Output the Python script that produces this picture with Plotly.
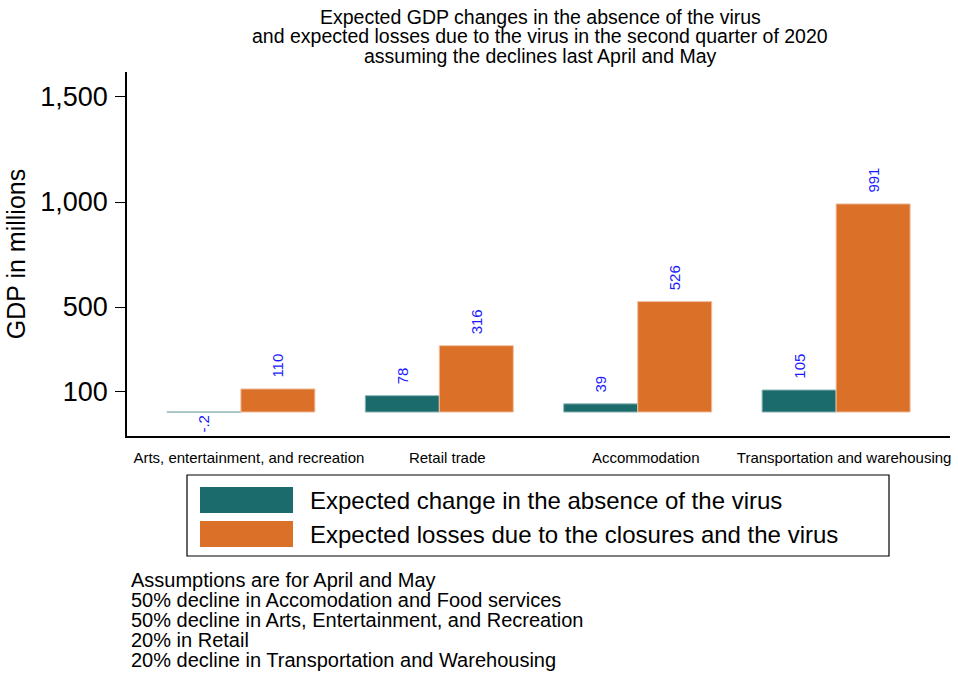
import plotly.graph_objects as go

# 業種ごとのデータ
sectors = ["Arts, entertainment, and recreation", "Retail trade", "Accommodation",
           "Transportation and warehousing"]
change_no_virus = [-0.2, 78, 39, 105]
change_labels = ["-.2", "78", "39", "105"]
losses_virus = [110, 316, 526, 991]
losses_labels = ["110", "316", "526", "991"]
series_names = ["Expected change in the absence of the virus",
                "Expected losses due to the closures and the virus"]
y_ticks = [100, 500, 1000, 1500]
y_ticktext = ["100", "500", "1,000", "1,500"]
title_lines = ["Expected GDP changes in the absence of the virus",
               "and expected losses due to the virus in the second quarter of 2020",
               "assuming the declines last April and May"]
notes = ["Assumptions are for April and May",
         "50% decline in Accomodation and Food services",
         "50% decline in Arts, Entertainment, and Recreation",
         "20% in Retail",
         "20% decline in Transportation and Warehousing"]

teal = "#1b6a6c"
orange = "#db7029"
label_font = dict(family="Liberation Sans, Arial", size=15, color="#1a1aff")

W, H = 958, 674
L, R, T, B = 127, 950, 72, 436  # プロット領域（ピクセル）


def px(x):
    return (x - L) / (R - L)


def py(y):
    return (B - y) / (B - T)


fig = go.Figure()
fig.add_trace(go.Bar(
    x=list(range(len(sectors))), y=change_no_virus, name=series_names[0],
    marker=dict(color=teal, line=dict(color="#8fb5b6", width=1)),
    text=change_labels, texttemplate="\u00a0\u00a0%{text}",
    textposition="outside", textangle=-90,
    textfont=label_font, cliponaxis=False,
))
fig.add_trace(go.Bar(
    x=list(range(len(sectors))), y=losses_virus, name=series_names[1],
    marker=dict(color=orange, line=dict(color="#efbf9f", width=1)),
    text=losses_labels, texttemplate="\u00a0\u00a0%{text}",
    textposition="outside", textangle=-90,
    textfont=label_font, cliponaxis=False,
))

fig.update_layout(
    width=W, height=H,
    margin=dict(l=L, r=W - R, t=T, b=H - B),
    paper_bgcolor="white", plot_bgcolor="white",
    font=dict(family="Liberation Sans, Arial", color="black"),
    barmode="group", bargap=0.254, bargroupgap=0,
    showlegend=False,
    xaxis=dict(
        range=[-0.574, 3.574], tickvals=list(range(len(sectors))), ticktext=sectors,
        showline=True, linecolor="black", linewidth=1.5, ticks="",
        showgrid=False, zeroline=False, tickfont=dict(size=15),
        ticklabelstandoff=7, ticklabelshift=8,
    ),
    yaxis=dict(
        range=[-114, 1619], tickvals=y_ticks, ticktext=y_ticktext,
        showline=True, linecolor="black", linewidth=1.5,
        ticks="outside", ticklen=10, tickcolor="black", ticklabelstandoff=2,
        showgrid=False, zeroline=False, tickfont=dict(size=27),
        title=dict(text="GDP in millions", font=dict(size=25), standoff=8),
    ),
)

# タイトル（行間を詰めるため1行ずつ）
for i, line in enumerate(title_lines):
    fig.add_annotation(xref="paper", yref="paper", x=px(540), y=py(17 + i * 19.5),
                       xanchor="center", yanchor="middle", showarrow=False,
                       text=line, font=dict(size=19.5))

# 凡例（手描き）
fig.add_shape(type="rect", xref="paper", yref="paper",
              x0=px(187), x1=px(889), y0=py(556), y1=py(475),
              line=dict(color="black", width=1.2), fillcolor="white")
for i, (name, col) in enumerate(zip(series_names, [teal, orange])):
    top = 487 + i * 34
    fig.add_shape(type="rect", xref="paper", yref="paper",
                  x0=px(200), x1=px(293), y0=py(top + 26), y1=py(top),
                  line=dict(width=0), fillcolor=col)
    fig.add_annotation(xref="paper", yref="paper", x=px(308), y=py(top + 13),
                       xanchor="left", yanchor="middle", showarrow=False,
                       text=name, font=dict(size=24))

# 注記
for i, line in enumerate(notes):
    fig.add_annotation(xref="paper", yref="paper", x=px(129), y=py(580 + i * 20),
                       xanchor="left", yanchor="middle", showarrow=False,
                       text=line, font=dict(size=20))

fig.write_html("out.html", config={"displayModeBar": False},
               post_script="document.body.style.margin='0';")
